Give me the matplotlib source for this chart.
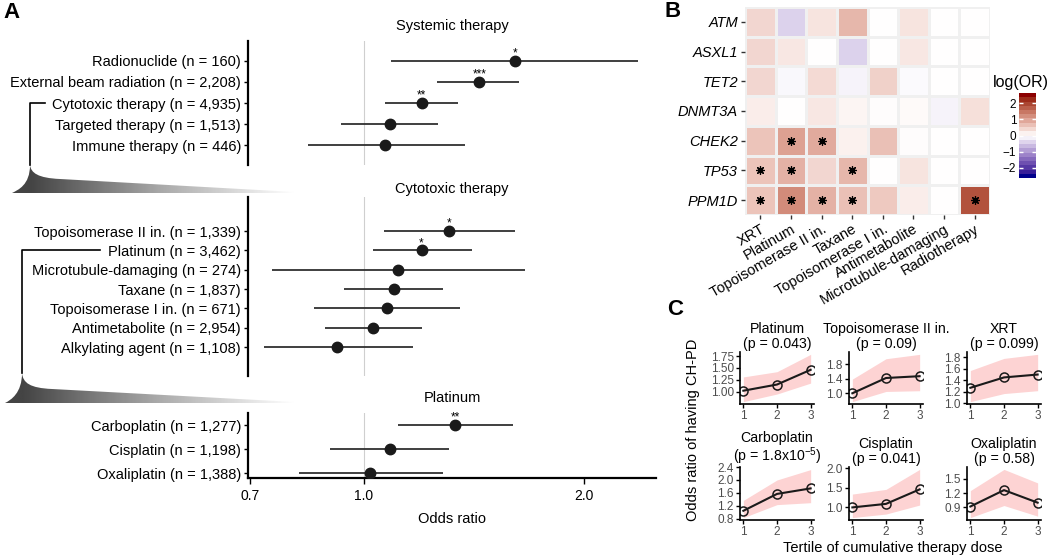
import numpy as np
import matplotlib
matplotlib.use("Agg")
import matplotlib.pyplot as plt
from matplotlib.colors import LinearSegmentedColormap, Normalize, to_rgb
from matplotlib.cm import ScalarMappable
from matplotlib.path import Path
from matplotlib.patches import PathPatch
from matplotlib.ticker import NullLocator

plt.rcParams['font.family'] = ['Liberation Sans', 'DejaVu Sans']
plt.rcParams['mathtext.fontset'] = 'custom'
plt.rcParams['mathtext.rm'] = 'Liberation Sans'
plt.rcParams['mathtext.default'] = 'regular'

# ---- panel A: forest plots ----
sys_labels = ["Radionuclide (n = 160)", "External beam radiation (n = 2,208)",
              "Cytotoxic therapy (n = 4,935)", "Targeted therapy (n = 1,513)",
              "Immune therapy (n = 446)"]
sys_or = [1.61, 1.44, 1.20, 1.085, 1.07]
sys_lo = [1.09, 1.26, 1.07, 0.93, 0.84]
sys_hi = [2.37, 1.63, 1.345, 1.265, 1.375]
sys_sig = ["*", "***", "**", "", ""]

cyto_labels = ["Topoisomerase II in. (n = 1,339)", "Platinum (n = 3,462)",
               "Microtubule-damaging (n = 274)", "Taxane (n = 1,837)",
               "Topoisomerase I in. (n = 671)", "Antimetabolite (n = 2,954)",
               "Alkylating agent (n = 1,108)"]
cyto_or = [1.31, 1.20, 1.115, 1.10, 1.075, 1.03, 0.92]
cyto_lo = [1.065, 1.03, 0.75, 0.94, 0.855, 0.885, 0.73]
cyto_hi = [1.61, 1.405, 1.66, 1.285, 1.355, 1.20, 1.17]
cyto_sig = ["*", "*", "", "", "", "", ""]

plat_labels = ["Carboplatin (n = 1,277)", "Cisplatin (n = 1,198)", "Oxaliplatin (n = 1,388)"]
plat_or = [1.335, 1.085, 1.02]
plat_lo = [1.115, 0.90, 0.815]
plat_hi = [1.60, 1.31, 1.285]
plat_sig = ["**", "", ""]

or_ticks = [0.7, 1.0, 2.0]

# ---- panel B: heatmap ----
genes = ["ATM", "ASXL1", "TET2", "DNMT3A", "CHEK2", "TP53", "PPM1D"]
therapies = ["XRT", "Platinum", "Topoisomerase II in.", "Taxane", "Topoisomerase I in.",
             "Antimetabolite", "Microtubule-damaging", "Radiotherapy"]
log_or = [
    [0.45, -0.45, 0.30, 0.80, 0.00, 0.30, 0.00, 0.00],
    [0.45, 0.25, 0.00, -0.45, 0.00, 0.25, 0.00, 0.00],
    [0.45, -0.08, 0.40, -0.12, 0.50, -0.06, 0.00, 0.00],
    [0.20, 0.00, 0.25, 0.12, 0.04, 0.06, -0.12, 0.35],
    [0.65, 1.05, 0.95, 0.15, 0.70, 0.04, 0.00, 0.00],
    [0.65, 0.85, 0.45, 0.80, 0.00, 0.30, 0.00, 0.00],
    [0.65, 1.30, 0.85, 0.70, 0.60, 0.20, 0.00, 1.95],
]
significant = [
    [0, 0, 0, 0, 0, 0, 0, 0],
    [0, 0, 0, 0, 0, 0, 0, 0],
    [0, 0, 0, 0, 0, 0, 0, 0],
    [0, 0, 0, 0, 0, 0, 0, 0],
    [0, 1, 1, 0, 0, 0, 0, 0],
    [1, 1, 0, 1, 0, 0, 0, 0],
    [1, 1, 1, 1, 0, 0, 0, 1],
]

# ---- panel C: dose response ----
tertile = [1, 2, 3]
c_titles = ["Platinum", "Topoisomerase II in.", "XRT", "Carboplatin", "Cisplatin", "Oxaliplatin"]
c_pvals = ["0.043", "0.09", "0.099", "1.8x10$^{-5}$", "0.041", "0.58"]
c_or = [[1.02, 1.15, 1.46], [1.00, 1.42, 1.47], [1.27, 1.45, 1.50],
        [1.05, 1.57, 1.74], [1.00, 1.09, 1.46], [0.92, 1.26, 1.00]]
c_lo = [[0.79, 0.95, 1.18], [0.77, 1.05, 1.07], [1.03, 1.17, 1.22],
        [0.84, 1.24, 1.30], [0.74, 0.83, 1.06], [0.69, 0.94, 0.72]]
c_hi = [[1.31, 1.42, 1.785], [1.39, 1.95, 2.07], [1.57, 1.78, 1.85],
        [1.37, 2.00, 2.32], [1.34, 1.46, 1.97], [1.25, 1.69, 1.41]]
c_yticks = [[1.0, 1.25, 1.5, 1.75], [1.0, 1.4, 1.8], [1.0, 1.2, 1.4, 1.6, 1.8],
            [0.8, 1.2, 1.6, 2.0, 2.4], [1.0, 1.5, 2.0], [0.9, 1.2, 1.5]]
c_ytick_labels = [["1.00", "1.25", "1.50", "1.75"], ["1.0", "1.4", "1.8"],
                  ["1.0", "1.2", "1.4", "1.6", "1.8"], ["0.8", "1.2", "1.6", "2.0", "2.4"],
                  ["1.0", "1.5", "2.0"], ["0.9", "1.2", "1.5"]]

W, H = 1050, 557


def box(x0, y0, x1, y1):
    # pixel box (top-left origin) -> figure fraction rect
    return [x0 / W, 1 - y1 / H, (x1 - x0) / W, (y1 - y0) / H]


M = np.array([[0.4124, 0.3576, 0.1805], [0.2126, 0.7152, 0.0722], [0.0193, 0.1192, 0.9505]])
WHITE = np.array([0.95047, 1.0, 1.08883])


def to_lab(col):
    rgb = np.array(to_rgb(col))
    lin = np.where(rgb <= 0.04045, rgb / 12.92, ((rgb + 0.055) / 1.055) ** 2.4)
    xyz = M @ lin / WHITE
    f = np.where(xyz > 0.008856, np.cbrt(xyz), 7.787 * xyz + 16 / 116)
    return np.array([116 * f[1] - 16, 500 * (f[0] - f[1]), 200 * (f[1] - f[2])])


def from_lab(lab):
    fy = (lab[0] + 16) / 116
    f = np.array([fy + lab[1] / 500, fy, fy - lab[2] / 200])
    xyz = np.where(f ** 3 > 0.008856, f ** 3, (f - 16 / 116) / 7.787) * WHITE
    lin = np.clip(np.linalg.inv(M) @ xyz, 0, 1)
    return np.clip(np.where(lin <= 0.0031308, 12.92 * lin, 1.055 * lin ** (1 / 2.4) - 0.055), 0, 1)


def gradient2(low, mid, high, n=256):
    # like ggplot's scale_fill_gradient2 (interpolated in Lab)
    lo, mi, hi = to_lab(low), to_lab(mid), to_lab(high)
    cols = []
    for t in np.linspace(0, 1, n):
        if t < 0.5:
            cols.append(from_lab(lo + (mi - lo) * t / 0.5))
        else:
            cols.append(from_lab(mi + (hi - mi) * (t - 0.5) / 0.5))
    return LinearSegmentedColormap.from_list("grad2", cols)


def forest(ax, labels, ors, los, his, sigs, pad_top, pad_bot):
    y = np.arange(len(labels))
    ax.axvline(1.0, color='#cfcfcf', lw=0.8, zorder=1)
    ax.hlines(y, los, his, color='#303030', lw=1.3, zorder=2)
    ax.plot(ors, y, 'o', color='#1a1a1a', ms=7.5, zorder=3)
    for yi, o, s in zip(y, ors, sigs):
        if s:
            ax.annotate(s, (o, yi), xytext=(0, 3), textcoords='offset points',
                        ha='center', va='baseline', fontsize=8.5)
    ax.set_xscale('log')
    ax.set_xlim(0.695, 2.51)
    ax.xaxis.set_minor_locator(NullLocator())
    ax.set_ylim(len(labels) - 1 + pad_bot, -pad_top)
    ax.set_yticks(y)
    ax.set_yticklabels(labels, fontsize=10.5)
    ax.tick_params(axis='y', length=3, width=1, pad=2)
    for s in ['top', 'right', 'bottom']:
        ax.spines[s].set_visible(False)
    ax.spines['left'].set_linewidth(1.6)
    ax.set_xticks([])
    ax.patch.set_alpha(0)


def wedge(ax, x_line, y_foot, y_bot, x_left, x_right):
    verts = [(x_line, y_foot), (x_line, y_foot + 20), (x_left + 6, y_bot - 3), (x_left, y_bot),
             (x_right, y_bot), (x_right, y_bot - 1), (x_line + 30, y_bot - 14),
             (x_line + 8, y_bot - 15), (x_line + 1, y_bot - 20), (x_line, y_foot), (x_line, y_foot)]
    codes = [Path.MOVETO, Path.CURVE4, Path.CURVE4, Path.CURVE4, Path.LINETO, Path.LINETO,
             Path.LINETO, Path.CURVE4, Path.CURVE4, Path.CURVE4, Path.CLOSEPOLY]
    patch = PathPatch(Path(verts, codes), facecolor='none', edgecolor='none')
    ax.add_patch(patch)
    xs = np.linspace(x_left, x_right, 300)
    grad = np.clip((xs - x_line) / (x_right - x_line), 0, 1)[None, :]
    gray = LinearSegmentedColormap.from_list("g", ['#444444', '#aaaaaa', '#ffffff'])
    im = ax.imshow(grad, cmap=gray, extent=(x_left, x_right, y_bot, y_foot), aspect='auto',
                   interpolation='bilinear')
    im.set_clip_path(patch)


fig = plt.figure(figsize=(10.5, 5.57), dpi=100)

# overlay for brackets and wedges
ov = fig.add_axes([0, 0, 1, 1])
ov.set_axis_off()
ov.plot([45, 30, 30], [103, 103, 165], color='black', lw=1.2)
ov.plot([100, 22, 22], [250, 250, 373], color='black', lw=1.2)
wedge(ov, 30, 165, 193, 12, 295)
wedge(ov, 22, 373, 403, 5, 295)
ov.set_xlim(0, W)
ov.set_ylim(H, 0)

ax_sys = fig.add_axes(box(248, 41, 656, 165))
forest(ax_sys, sys_labels, sys_or, sys_lo, sys_hi, sys_sig, 0.95, 0.95)
ax_cyto = fig.add_axes(box(248, 197, 656, 376))
forest(ax_cyto, cyto_labels, cyto_or, cyto_lo, cyto_hi, cyto_sig, 1.76, 1.5)
ax_plat = fig.add_axes(box(248, 413, 656, 478))
forest(ax_plat, plat_labels, plat_or, plat_lo, plat_hi, plat_sig, 0.5, 0.2)
ax_plat.spines['bottom'].set_visible(True)
ax_plat.spines['bottom'].set_linewidth(1.6)
ax_plat.set_xticks(or_ticks)
ax_plat.set_xticklabels([f"{t:.1f}" for t in or_ticks], fontsize=10)
ax_plat.tick_params(axis='x', length=4, width=1, pad=4)

fig.text(452 / W, 1 - 26 / H, "Systemic therapy", ha='center', va='center', fontsize=10.5)
fig.text(452 / W, 1 - 189 / H, "Cytotoxic therapy", ha='center', va='center', fontsize=10.5)
fig.text(452 / W, 1 - 398 / H, "Platinum", ha='center', va='center', fontsize=10.5)
fig.text(452 / W, 1 - 519 / H, "Odds ratio", ha='center', va='center', fontsize=10.5)

# ---- panel B ----
cmap = gradient2('#00008B', '#FFFFFF', '#8B0000')
norm = Normalize(-2.65, 2.65)
ax_b = fig.add_axes(box(745, 7, 990, 215))
ax_b.pcolormesh(np.array(log_or), cmap=cmap, norm=norm, edgecolors='#f0f0f0', linewidth=0.8)
rows, cols = np.nonzero(np.array(significant))
ax_b.scatter(cols + 0.5, rows + 0.5, marker=(8, 2, 0), s=32, color='black', linewidths=0.9, zorder=3)
ax_b.set_xlim(0, len(therapies))
ax_b.set_ylim(len(genes), 0)
ax_b.set_xticks(np.arange(len(therapies)) + 0.5)
ax_b.set_xticklabels(therapies, rotation=30, ha='right', rotation_mode='anchor', fontsize=10.5)
ax_b.set_yticks(np.arange(len(genes)) + 0.5)
ax_b.set_yticklabels(genes, fontstyle='italic', fontsize=10.5)
ax_b.tick_params(length=3, width=1, color='#333333', pad=2)
for s in ax_b.spines.values():
    s.set_visible(False)

cax = fig.add_axes(box(1019, 93, 1036, 178))
cb = fig.colorbar(ScalarMappable(norm=norm, cmap=cmap.resampled(20)), cax=cax, ticks=[-2, -1, 0, 1, 2])
cb.outline.set_visible(False)
cax.yaxis.set_ticks_position('both')
cax.tick_params(direction='in', color='white', length=3, width=1, labelleft=True, labelright=False,
                labelsize=8.5, pad=2)
cax.set_yticklabels(["\u22122", "\u22121", "0", "1", "2"])
fig.text(1021 / W, 1 - 83 / H, "log(OR)", ha='center', va='center', fontsize=11.5)

# ---- panel C ----
c_left = [740, 849, 967]
c_rows = [(352, 404), (467, 520)]
for i in range(6):
    r, c = divmod(i, 3)
    y0, y1 = c_rows[r]
    ax = fig.add_axes(box(c_left[c], y0, c_left[c] + 74, y1))
    ax.fill_between(tertile, c_lo[i], c_hi[i], color='#fdd3d3', lw=0)
    ax.plot(tertile, c_or[i], color='#1a1a1a', lw=1.5)
    ax.plot(tertile, c_or[i], 'o', mfc='none', mec='#1a1a1a', mew=1.1, ms=6.5)
    lo, hi = min(c_lo[i]), max(c_hi[i])
    span = hi - lo
    ax.set_ylim(lo - 0.05 * span, hi + 0.05 * span)
    ax.set_xlim(0.9, 3.1)
    ax.set_xticks(tertile)
    ax.set_xticklabels([str(t) for t in tertile])
    ax.set_yticks(c_yticks[i])
    ax.set_yticklabels(c_ytick_labels[i])
    ax.tick_params(labelsize=8.5, labelcolor='#4d4d4d', length=3, width=1, pad=1.5)
    for s in ['top', 'right']:
        ax.spines[s].set_visible(False)
    for s in ['left', 'bottom']:
        ax.spines[s].set_linewidth(1.2)
    ax.set_title(f"{c_titles[i]}\n(p = {c_pvals[i]})", fontsize=10.2, linespacing=1.05, pad=3)

fig.text(693 / W, 1 - 430 / H, "Odds ratio of having CH-PD", rotation=90, ha='center', va='center',
         fontsize=10.5)
fig.text(893 / W, 1 - 548 / H, "Tertile of cumulative therapy dose", ha='center', va='center',
         fontsize=10.5)

# panel letters
fig.text(3 / W, 1 - 2 / H, "A", ha='left', va='top', fontsize=16, fontweight='bold')
fig.text(664 / W, 1 - 1 / H, "B", ha='left', va='top', fontsize=16, fontweight='bold')
fig.text(667 / W, 1 - 299 / H, "C", ha='left', va='top', fontsize=16, fontweight='bold')

fig.savefig("out.png", dpi=100)
